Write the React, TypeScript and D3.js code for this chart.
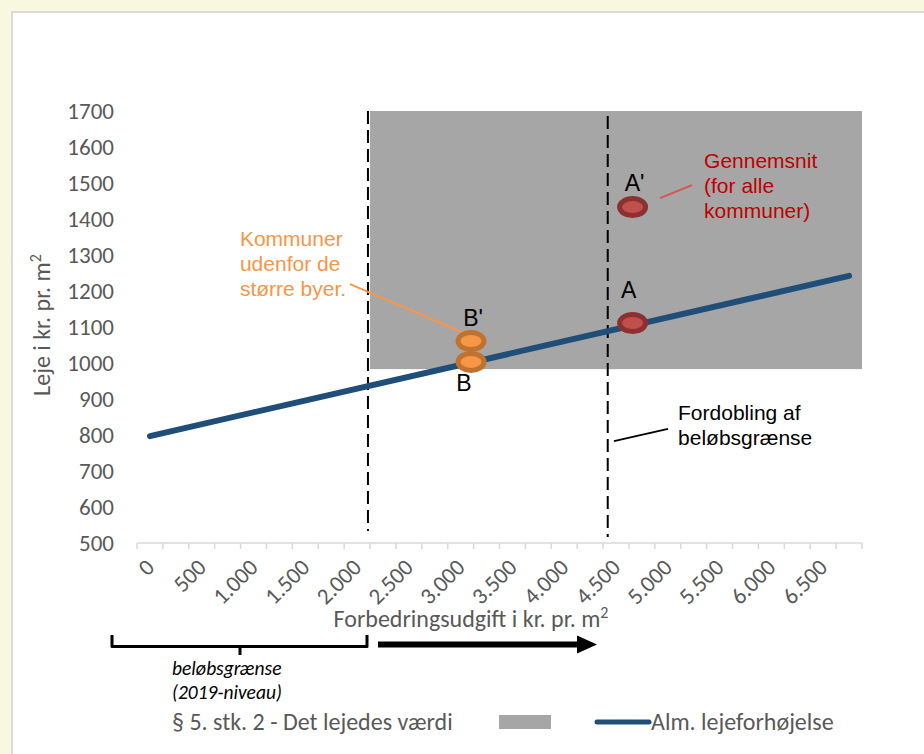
import React from "react";
import * as d3 from "d3";

// ---- data ----
const categoryStep = 250;
const categoryCount = 28; // 0 .. 6750
const xTickValues = [0, 500, 1000, 1500, 2000, 2500, 3000, 3500, 4000, 4500, 5000, 5500, 6000, 6500];
const yTickValues = [500, 600, 700, 800, 900, 1000, 1100, 1200, 1300, 1400, 1500, 1600, 1700];

// Alm. lejeforhøjelse (blue line)
const lineX = [0, 6750];
const lineY = [797, 1242];

// § 5. stk. 2 - Det lejedes værdi (grey area)
const shadeX = [2125, 6875];
const shadeY = [983, 1700];

// dashed reference lines: x, top value, bottom value
const dashX = [2105, 4420];
const dashTop = [1700, 1686];
const dashBottom = [533, 517];

// points
const pointNames = ["B'", "B", "A'", "A"];
const pointX = [3100, 3100, 4660, 4660];
const pointY = [1061, 1003, 1433, 1111];
const pointGroup = ["orange", "orange", "red", "red"];

const fmt = (v: number) => d3.format(",")(v).replace(/,/g, ".");

export default function App() {
  const W = 924, H = 754;
  const x = d3.scaleLinear().domain([-categoryStep / 2, categoryStep * categoryCount - categoryStep / 2]).range([137, 862]);
  const y = d3.scaleLinear().domain([500, 1700]).range([543, 111]);

  const lineGen = d3.line<number>().x((_, i) => x(lineX[i])).y((d) => y(d));
  const boundaries = d3.range(categoryCount + 1).map((i) => -categoryStep / 2 + i * categoryStep);

  const calibri = "Carlito, 'Open Sans', sans-serif";
  const arial = "'Liberation Sans', Arial, sans-serif";
  const grey = "#595959";

  const colors: Record<string, { fill: string; stroke: string }> = {
    orange: { fill: "#f79646", stroke: "#c0722f" },
    red: { fill: "#c0504d", stroke: "#8c3130" },
  };
  const labelOffset: Record<string, [number, number]> = {
    "B'": [2, -15],
    B: [-7, 29],
    "A'": [2, -16],
    A: [-4, -25],
  };

  return (
    <svg width={W} height={H} style={{ position: "absolute", left: 0, top: 0, display: "block" }}>
      <rect x={0} y={0} width={W} height={H} fill="#f8f8e1" />
      <rect x={11} y={11} width={W} height={H} fill="#dadada" />
      <rect x={13} y={13} width={W} height={H} fill="#ffffff" />

      {/* grey area */}
      <rect x={x(shadeX[0])} y={y(shadeY[1])} width={x(shadeX[1]) - x(shadeX[0])} height={y(shadeY[0]) - y(shadeY[1])} fill="#a6a6a6" />

      {/* y tick labels */}
      {yTickValues.map((v) => (
        <text key={v} x={114} y={y(v)} dy="0.35em" textAnchor="end" fontFamily={calibri} fontSize={23} fill={grey}>
          {v}
        </text>
      ))}

      {/* y axis title */}
      <text transform={`translate(50,${325}) rotate(-90)`} textAnchor="middle" fontFamily={calibri} fontSize={24} fill={grey}>
        Leje i kr. pr. m<tspan dy={-9} fontSize={16}>2</tspan>
      </text>

      {/* x axis */}
      <line x1={x(boundaries[0])} x2={x(boundaries[boundaries.length - 1])} y1={543} y2={543} stroke="#d9d9d9" strokeWidth={1.5} />
      {boundaries.map((b, i) => (
        <line key={i} x1={x(b)} x2={x(b)} y1={543} y2={549} stroke="#d9d9d9" strokeWidth={1.5} />
      ))}
      {xTickValues.map((v) => (
        <text
          key={v}
          transform={`translate(${x(v)},${563}) rotate(-45)`}
          textAnchor="end"
          dy="0.35em"
          fontFamily={calibri}
          fontSize={23}
          fill={grey}
        >
          {fmt(v)}
        </text>
      ))}
      <text x={471} y={627} textAnchor="middle" fontFamily={calibri} fontSize={24} fill={grey}>
        Forbedringsudgift i kr. pr. m<tspan dy={-9} fontSize={16}>2</tspan>
      </text>

      {/* dashed lines */}
      {dashX.map((v, i) => (
        <line key={i} x1={x(v)} x2={x(v)} y1={y(dashTop[i])} y2={y(dashBottom[i])} stroke="#000" strokeWidth={2} strokeDasharray="13,6" />
      ))}

      {/* blue line */}
      <path d={lineGen(lineY) || ""} fill="none" stroke="#1f4e79" strokeWidth={6} strokeLinecap="round" />

      {/* leader lines */}
      <line x1={x(1932)} y1={y(1219)} x2={x(3100)} y2={y(1075)} stroke="#f79646" strokeWidth={2} />
      <line x1={x(4925)} y1={y(1458)} x2={x(5234)} y2={y(1494)} stroke="#d9534f" strokeWidth={2} />
      <line x1={x(4480)} y1={y(783)} x2={x(5002)} y2={y(817)} stroke="#000" strokeWidth={2} />

      {/* points */}
      {pointNames.map((n, i) => {
        const cx = x(pointX[i]);
        const cy = y(pointY[i]);
        const c = colors[pointGroup[i]];
        const [dx, dy] = labelOffset[n];
        return (
          <g key={n}>
            <ellipse cx={cx} cy={cy} rx={13} ry={8.5} fill={c.fill} stroke={c.stroke} strokeWidth={5} />
            <text x={cx + dx} y={cy + dy} textAnchor="middle" fontFamily={arial} fontSize={23} fill="#000">
              {n}
            </text>
          </g>
        );
      })}

      {/* annotations */}
      <text x={x(5350)} y={y(1542)} fontFamily={arial} fontSize={21} fill="#c00000">
        <tspan x={x(5350)}>Gennemsnit</tspan>
        <tspan x={x(5350)} dy={25}>(for alle</tspan>
        <tspan x={x(5350)} dy={25}>kommuner)</tspan>
      </text>
      <text x={x(869)} y={y(1325)} fontFamily={arial} fontSize={21} fill="#f79646">
        <tspan x={x(869)}>Kommuner</tspan>
        <tspan x={x(869)} dy={25}>udenfor de</tspan>
        <tspan x={x(869)} dy={25}>større byer.</tspan>
      </text>
      <text x={x(5099)} y={y(842)} fontFamily={arial} fontSize={21} fill="#000">
        <tspan x={x(5099)}>Fordobling af</tspan>
        <tspan x={x(5099)} dy={25}>beløbsgrænse</tspan>
      </text>

      {/* bracket */}
      <path d="M112,635 L112,646.5 L367,646.5 L367,635" fill="none" stroke="#000" strokeWidth={3} strokeLinejoin="round" />
      <line x1={240} x2={240} y1={646.5} y2={655} stroke="#000" strokeWidth={3} />
      <text x={172} y={675} fontFamily={calibri} fontStyle="italic" fontSize={19.5} fill="#000">beløbsgrænse</text>
      <text x={172} y={699} fontFamily={calibri} fontStyle="italic" fontSize={19.5} fill="#000">(2019-niveau)</text>

      {/* arrow */}
      <line x1={378} x2={580} y1={644.5} y2={644.5} stroke="#000" strokeWidth={6} />
      <path d="M577,635.5 L597,644.5 L577,653.5 Z" fill="#000" />

      {/* legend */}
      <text x={172} y={722} dy="0.35em" fontFamily={calibri} fontSize={24} fill={grey}>§ 5. stk. 2 - Det lejedes værdi</text>
      <rect x={499} y={715} width={52} height={14} fill="#a6a6a6" />
      <line x1={597} x2={649} y1={722} y2={722} stroke="#1f4e79" strokeWidth={5} strokeLinecap="round" />
      <text x={651} y={722} dy="0.35em" fontFamily={calibri} fontSize={24} fill={grey}>Alm. lejeforhøjelse</text>
    </svg>
  );
}
